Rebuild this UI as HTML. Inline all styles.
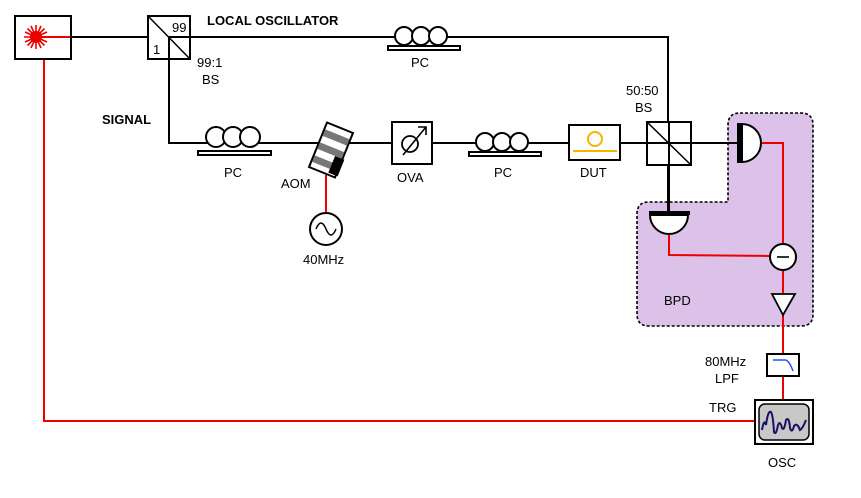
<!DOCTYPE html>
<html><head><meta charset="utf-8"><style>body{margin:0;background:#fff}svg{display:block}text{font-family:"Liberation Sans",sans-serif;font-size:13px;fill:#000}</style></head><body>
<svg width="861" height="498" viewBox="0 0 861 498" xmlns="http://www.w3.org/2000/svg">
<!-- BPD region -->
<path d="M740,113 H801 Q813,113 813,125 V314 Q813,326 801,326 H649 Q637,326 637,314 V214 Q637,202 649,202 H728 V125 Q728,113 740,113 Z" fill="#dcc2e8" stroke="#000" stroke-width="1.6" stroke-dasharray="3,2"/>
<!-- black fibers -->
<g stroke="#000" stroke-width="2" fill="none">
<line x1="71" y1="37" x2="148" y2="37"/>
<polyline points="190,37 668,37 668,212"/>
<polyline points="169,59 169,143 738,143"/>
</g>
<!-- red lines -->
<g stroke="#e00" stroke-width="2" fill="none">
<line x1="36" y1="37" x2="71" y2="37"/>
<polyline points="44,59 44,421 755,421"/>
<line x1="326" y1="175" x2="326" y2="213"/>
<polyline points="759,143 783,143 783,244"/>
<polyline points="669,233 669,255 770,256"/>
<line x1="783" y1="270" x2="783" y2="400"/>
</g>
<!-- laser -->
<rect x="15" y="16" width="56" height="43" fill="none" stroke="#000" stroke-width="2"/>
<g stroke="#e00" stroke-width="1.6">
<line x1="24" y1="37" x2="48" y2="37"/><line x1="36" y1="25" x2="36" y2="49"/>
<line x1="27.5" y1="28.5" x2="44.5" y2="45.5"/><line x1="27.5" y1="45.5" x2="44.5" y2="28.5"/>
<line x1="25" y1="32" x2="47" y2="42"/><line x1="25" y1="42" x2="47" y2="32"/>
<line x1="31" y1="26" x2="41" y2="48"/><line x1="41" y1="26" x2="31" y2="48"/>
</g>
<circle cx="36" cy="37" r="6" fill="#e00"/>
<!-- BS1 -->
<rect x="148" y="16" width="42" height="43" fill="#fff" stroke="#000" stroke-width="2"/>
<line x1="148" y1="16" x2="190" y2="59" stroke="#000" stroke-width="1.5"/>
<line x1="169" y1="37" x2="169" y2="59" stroke="#000" stroke-width="2"/>
<line x1="169" y1="37" x2="190" y2="37" stroke="#000" stroke-width="2"/>
<text x="172" y="32">99</text><text x="153" y="54">1</text>
<text x="197" y="67">99:1</text><text x="202" y="84">BS</text>
<text x="207" y="25" style="font-weight:bold">LOCAL OSCILLATOR</text>
<text x="102" y="124" style="font-weight:bold">SIGNAL</text>
<!-- PCs -->
<g fill="#fff" stroke="#000" stroke-width="2">
<circle cx="404" cy="36" r="9"/><circle cx="421" cy="36" r="9"/><circle cx="438" cy="36" r="9"/>
<rect x="388" y="46" width="72" height="4"/>
<circle cx="216" cy="137" r="10"/><circle cx="233" cy="137" r="10"/><circle cx="250" cy="137" r="10"/>
<rect x="198" y="151" width="73" height="4"/>
<circle cx="485" cy="142" r="9"/><circle cx="502" cy="142" r="9"/><circle cx="519" cy="142" r="9"/>
<rect x="469" y="152" width="72" height="4"/>
</g>
<text x="411" y="67">PC</text><text x="224" y="177">PC</text><text x="494" y="177">PC</text>
<!-- AOM -->
<g transform="translate(331,150) rotate(22)">
<rect x="-14" y="-24" width="28" height="48" fill="#fff" stroke="#000" stroke-width="2"/>
<rect x="-13" y="-17" width="26" height="7" fill="#777"/>
<rect x="-13" y="-3" width="26" height="7" fill="#777"/>
<rect x="-13" y="11" width="26" height="7" fill="#777"/>
<rect x="6" y="4" width="10" height="18" fill="#000"/>
</g>
<text x="281" y="188">AOM</text>
<circle cx="326" cy="229" r="16" fill="#fff" stroke="#000" stroke-width="2"/>
<path d="M316,229 Q321,217 326,229 T336,229" fill="none" stroke="#000" stroke-width="1.5"/>
<text x="303" y="264">40MHz</text>
<!-- OVA -->
<rect x="392" y="122" width="40" height="42" fill="#fff" stroke="#000" stroke-width="2"/>
<circle cx="410" cy="144" r="8" fill="none" stroke="#000" stroke-width="1.8"/>
<line x1="403" y1="155" x2="426" y2="127" stroke="#000" stroke-width="1.6"/>
<path d="M418,127 H426 V135" fill="none" stroke="#000" stroke-width="1.6"/>
<text x="397" y="182">OVA</text>
<!-- DUT -->
<rect x="569" y="125" width="51" height="35" fill="#fff" stroke="#000" stroke-width="2"/>
<circle cx="595" cy="139" r="7" fill="none" stroke="#f5b400" stroke-width="2"/>
<line x1="573" y1="151" x2="617" y2="151" stroke="#f5b400" stroke-width="2"/>
<text x="580" y="177">DUT</text>
<!-- BS2 -->
<rect x="647" y="122" width="44" height="43" fill="#fff" stroke="#000" stroke-width="2"/>
<line x1="647" y1="122" x2="691" y2="165" stroke="#000" stroke-width="1.5"/>
<line x1="669" y1="122" x2="669" y2="165" stroke="#000" stroke-width="2"/>
<line x1="647" y1="143" x2="691" y2="143" stroke="#000" stroke-width="2"/>
<line x1="669" y1="165" x2="669" y2="212" stroke="#000" stroke-width="2"/>
<text x="626" y="95">50:50</text><text x="635" y="112">BS</text>
<!-- PDs -->
<path d="M742,124 A19,19 0 0 1 742,162 Z" fill="#fff" stroke="#000" stroke-width="2"/>
<rect x="737" y="123" width="4" height="40" fill="#000"/>
<path d="M650,215 A19,19 0 0 0 688,215 Z" fill="#fff" stroke="#000" stroke-width="2"/>
<rect x="649" y="211" width="41" height="4" fill="#000"/>
<circle cx="783" cy="257" r="13" fill="#fff" stroke="#000" stroke-width="2"/>
<line x1="777" y1="257" x2="789" y2="257" stroke="#000" stroke-width="1.6"/>
<path d="M772,294 H795 L783,315 Z" fill="#fff" stroke="#000" stroke-width="1.8"/>
<text x="664" y="305">BPD</text>
<!-- LPF -->
<rect x="767" y="354" width="32" height="22" fill="#fff" stroke="#000" stroke-width="2"/>
<path d="M773,360 H785 Q789,360 793,371" fill="none" stroke="#2050ff" stroke-width="1.5"/>
<text x="705" y="366">80MHz</text><text x="715" y="383">LPF</text>
<text x="709" y="412">TRG</text>
<!-- OSC -->
<rect x="755" y="400" width="58" height="44" fill="#fff" stroke="#000" stroke-width="2"/>
<rect x="759" y="404" width="50" height="36" rx="6" fill="#c8c8c8" stroke="#000" stroke-width="1.5"/>
<path d="M762,430 Q764,418 766,425 Q768,410 771,412 Q773,415 774,432 Q776,436 778,425 Q780,420 782,428 Q784,432 786,420 Q789,416 790,428 Q792,434 794,426 Q797,422 800,430 Q803,428 806,420" fill="none" stroke="#1a1060" stroke-width="2"/>
<text x="768" y="467">OSC</text>
</svg>
</body></html>
